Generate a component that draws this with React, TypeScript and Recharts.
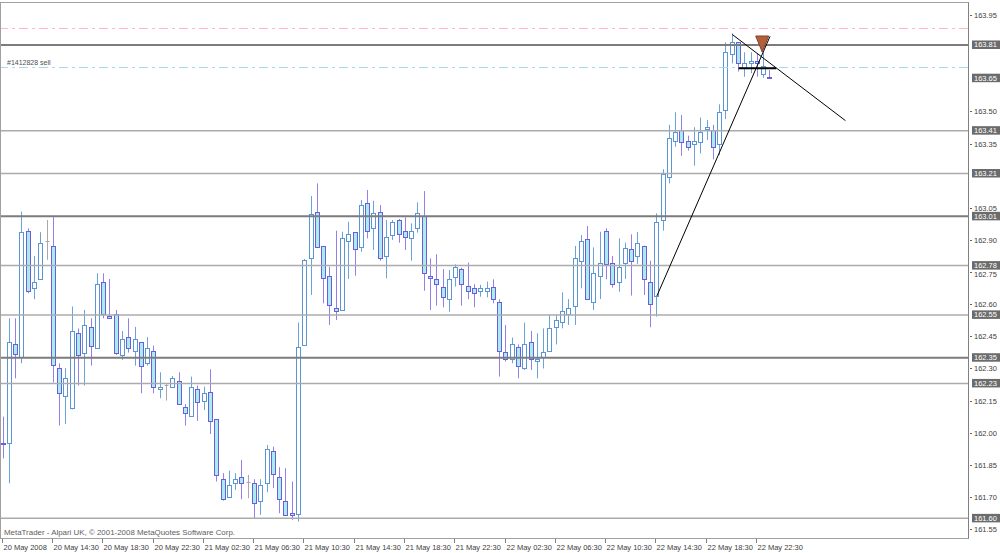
import React from 'react';
import { ComposedChart, Bar, XAxis, YAxis, ReferenceLine, ReferenceDot } from 'recharts';

const opens = [161.954,161.954,162.413,162.355,162.943,162.674,162.716,162.895,162.873,162.301,162.173,162.114,162.464,162.374,162.494,162.394,162.705,162.545,162.554,162.363,162.446,162.382,162.422,162.324,162.382,162.203,162.223,162.215,162.243,162.122,162.080,162.203,162.150,162.192,162.064,161.783,161.702,161.764,161.792,161.772,161.764,161.683,161.764,161.915,161.795,161.683,161.624,161.621,162.410,162.814,163.032,162.872,162.732,162.584,162.573,162.895,162.935,162.865,163.074,162.954,163.032,162.825,162.925,162.993,162.943,162.907,162.954,163.013,162.732,162.716,162.682,162.624,162.725,162.763,162.685,162.674,162.663,162.663,162.682,162.612,162.375,162.343,162.402,162.300,162.422,162.335,162.352,162.381,162.492,162.515,162.554,162.593,162.803,162.904,162.612,162.733,162.942,162.791,162.705,162.791,162.856,162.825,162.873,162.705,162.638,162.993,163.195,163.363,163.413,163.362,163.346,163.356,163.416,163.413,163.348,163.507,163.766,163.822,163.701,163.724,163.737,163.675,163.662];
const highs = [162.075,162.534,162.534,163.032,162.954,162.825,162.936,162.993,163.006,162.324,162.301,162.589,162.487,162.573,162.534,162.744,162.744,162.718,162.573,162.475,162.534,162.494,162.422,162.446,162.407,162.282,162.228,162.265,162.282,162.134,162.262,162.220,162.215,162.296,162.064,161.811,161.823,161.811,161.873,161.803,161.783,161.783,161.943,161.935,161.839,161.834,161.772,162.514,162.811,163.105,163.164,162.872,162.775,162.943,162.938,162.985,162.935,163.086,163.133,163.083,163.063,162.993,162.993,162.998,163.005,162.977,163.075,163.128,162.814,162.833,162.764,162.760,162.786,162.770,162.794,162.693,162.690,162.705,162.716,162.623,162.503,162.444,162.412,162.514,162.475,162.464,162.487,162.552,162.552,162.655,162.624,162.872,162.923,162.965,162.865,162.938,162.954,162.825,162.907,162.887,162.926,162.937,162.873,162.803,163.024,163.230,163.437,163.496,163.483,163.387,163.426,163.471,163.460,163.437,163.533,163.822,163.864,163.822,163.776,163.776,163.771,163.776,163.693];
const lows = [161.880,161.764,162.254,162.324,162.651,162.623,162.713,162.807,162.235,162.033,162.041,162.109,162.220,162.220,162.313,162.394,162.534,162.534,162.363,162.340,162.374,162.313,162.184,162.313,162.184,162.161,162.150,162.212,162.134,162.033,162.080,162.055,162.106,161.994,161.772,161.683,161.702,161.733,161.689,161.694,161.601,161.616,161.722,161.741,161.624,161.616,161.593,161.585,162.405,162.643,162.869,162.604,162.503,162.526,162.573,162.718,162.733,162.845,162.907,162.853,162.803,162.721,162.900,162.887,162.853,162.803,162.934,162.663,162.573,162.593,162.585,162.565,162.682,162.593,162.623,162.585,162.635,162.632,162.604,162.262,162.332,162.324,162.254,162.293,162.293,162.254,162.300,162.381,162.412,162.487,162.503,162.503,162.674,162.623,162.573,162.624,162.716,162.677,162.658,162.718,162.640,162.788,162.643,162.492,162.542,162.943,163.164,163.335,163.293,163.317,163.247,163.304,163.367,163.276,163.296,163.464,163.724,163.686,163.662,163.678,163.662,163.657,163.657];
const closes = [161.947,162.422,162.366,162.936,162.663,162.705,162.884,162.895,162.315,162.184,162.254,162.475,162.363,162.503,162.405,162.694,162.554,162.534,162.371,162.436,162.394,162.436,162.313,162.394,162.212,162.215,162.223,162.254,162.134,162.094,162.215,162.145,162.184,162.055,161.803,161.689,161.756,161.783,161.764,161.772,161.674,161.756,161.923,161.806,161.689,161.616,161.616,162.402,162.807,163.021,162.869,162.724,162.596,162.568,162.907,162.926,162.856,163.063,162.943,163.024,162.814,162.912,162.982,162.928,162.912,162.943,163.024,162.744,162.724,162.694,162.635,162.716,162.775,162.693,162.663,162.654,162.674,162.674,162.623,162.381,162.343,162.412,162.313,162.412,162.343,162.343,162.375,162.487,162.526,162.568,162.584,162.814,162.895,162.623,162.744,162.791,162.786,162.693,162.775,162.864,162.803,162.884,162.716,162.601,162.982,163.208,163.374,163.402,163.356,163.332,163.363,163.402,163.426,163.332,163.496,163.776,163.822,163.727,163.727,163.737,163.727,163.713,163.657];

const TOTAL_SLOTS = 154;
const timeTickIdx = [0, 8, 16, 24, 32, 40, 48, 56, 64, 72, 80, 88, 96, 104, 112, 120];
const timeTickLabels = ['20 May 2008', '20 May 14:30', '20 May 18:30', '20 May 22:30', '21 May 02:30', '21 May 06:30', '21 May 10:30', '21 May 14:30', '21 May 18:30', '21 May 22:30', '22 May 02:30', '22 May 06:30', '22 May 10:30', '22 May 14:30', '22 May 18:30', '22 May 22:30'];
const priceTicks = [163.95, 163.5, 163.35, 163.05, 162.9, 162.75, 162.6, 162.45, 162.3, 162.15, 162.0, 161.85, 161.7, 161.55];
const levelPrices = [163.81, 163.41, 163.21, 163.01, 162.78, 162.55, 162.35, 162.23, 161.60];
const levelLabels = ['163.81', '163.41', '163.21', '163.01', '162.78', '162.55', '162.35', '162.23', '161.60'];
const levelStrong = [true, false, false, true, false, false, true, false, false];
const bidPrice = 163.655;
const bidLabel = '163.65';
const stopPrice = 163.887;
const orderPrice = 163.705;
const orderLabel = '#1412828 sell';
const trendUp = [{ x: 104, y: 162.638 }, { x: 122, y: 163.85 }];
const trendDown = [{ x: 116, y: 163.859 }, { x: 134, y: 163.457 }];
const hSegment = [{ x: 117, y: 163.701 }, { x: 123, y: 163.701 }];
const arrowBar = 121;
const arrowPrice = 163.852;

const data = Array.from({ length: TOTAL_SLOTS }, (_, i) =>
  i < opens.length
    ? { idx: i, open: opens[i], high: highs[i], low: lows[i], close: closes[i], range: [lows[i], highs[i]] }
    : { idx: i }
);

const FONT = "'Liberation Sans', Arial, sans-serif";
const BULL_EDGE = '#5a96d4';
const BULL_WICK = '#6aa2da';
const BEAR_EDGE = '#6c5ce0';
const BEAR_WICK = '#9580ea';
const BEAR_FILL = '#a8ecec';
const DOJI = '#a8a8a8';

const Candle = (props: any) => {
  const { x, y, width, height, payload } = props;
  if (!payload || payload.open == null) return null;
  const { open, close, high, low } = payload;
  const span = high - low;
  const py = (v: number) => (span > 0 ? y + ((high - v) / span) * height : y);
  const cx = Math.floor(x + width / 2) + 0.5;
  const bull = close > open;
  const bear = close < open;
  const wick = bull ? BULL_WICK : bear ? BEAR_WICK : DOJI;
  let top = Math.round(py(Math.max(open, close))) + 0.5;
  let bot = Math.round(py(Math.min(open, close))) + 0.5;
  if (bot - top < 1) bot = top + 1;
  return (
    <g>
      <line x1={cx} x2={cx} y1={y} y2={y + height} stroke={wick} strokeWidth={1} />
      {bull || bear ? (
        <rect x={cx - 2} y={top} width={4} height={bot - top} fill={bull ? '#ffffff' : BEAR_FILL} stroke={bull ? BULL_EDGE : BEAR_EDGE} strokeWidth={1} />
      ) : (
        <line x1={cx - 2} x2={cx + 2} y1={top} y2={top} stroke={DOJI} strokeWidth={1} />
      )}
    </g>
  );
};

const TimeTick = (props: any) => {
  const { x, y, payload } = props;
  const k = timeTickIdx.indexOf(payload.value);
  const label = k >= 0 ? timeTickLabels[k] : '';
  const tx = Math.floor(x) - 0.5;
  return (
    <g>
      <line x1={tx} x2={tx} y1={y} y2={y + 4} stroke="#808080" strokeWidth={1} />
      <text x={tx + 1} y={y + 11} fontSize={7.5} fontFamily={FONT} fill="#404040">{label}</text>
    </g>
  );
};

const PriceTick = (props: any) => {
  const { x, y, payload } = props;
  const v = Number(payload.value);
  const dy = Math.abs(v - 162.75) < 0.001 ? 5 : 3;
  return (
    <g>
      <line x1={x + 2} x2={x + 4} y1={Math.round(y) + 0.5} y2={Math.round(y) + 0.5} stroke="#606060" strokeWidth={1} />
      <text x={x + 6} y={y + dy} fontSize={7.5} fontFamily={FONT} fill="#404040">{v.toFixed(2)}</text>
    </g>
  );
};

const BoxLabel = (props: any) => {
  const { viewBox, text } = props;
  if (!viewBox) return null;
  const x = viewBox.x + viewBox.width;
  const y = viewBox.y;
  return (
    <g>
      <rect x={x + 4} y={y - 4.5} width={30} height={8.5} fill="#6b6b6b" />
      <text x={x + 6} y={y + 2.4} fontSize={7.5} fontFamily={FONT} fill="#ffffff">{text}</text>
    </g>
  );
};

const OrderLabel = (props: any) => {
  const { viewBox, text } = props;
  if (!viewBox) return null;
  return (
    <text x={viewBox.x + 7} y={viewBox.y - 2} fontSize={7} fontFamily={FONT} fill="#505050">{text}</text>
  );
};

const Arrow = (props: any) => {
  const { cx, cy } = props;
  if (cx == null || cy == null) return null;
  const c = cx - 1.5;
  return (
    <polygon points={`${c - 6.5},${cy} ${c + 6.5},${cy} ${c},${cy + 16}`} fill="#b0603a" stroke="#8a4020" strokeWidth={1} />
  );
};

export default function App() {
  return (
    <div style={{ position: 'absolute', left: 0, top: 0, width: 1000, height: 553, background: '#ffffff', overflow: 'hidden' }}>
      <ComposedChart
        width={1000}
        height={553}
        data={data}
        margin={{ top: 2, right: 0, bottom: 0, left: 0 }}
        barCategoryGap={0}
        barGap={0}
      >
        <XAxis
          dataKey="idx"
          type="category"
          ticks={timeTickIdx}
          interval={0}
          height={14}
          tickLine={false}
          axisLine={false}
          tickSize={0}
          tickMargin={0}
          tick={<TimeTick />}
        />
        <YAxis
          orientation="right"
          type="number"
          domain={[161.5037, 164.0107]}
          allowDataOverflow
          ticks={priceTicks}
          width={32}
          tickLine={false}
          axisLine={false}
          tickSize={0}
          tickMargin={0}
          tick={<PriceTick />}
        />
        {levelPrices.map((p, i) => (
          <ReferenceLine
            key={'lvl' + i}
            y={p}
            stroke={levelStrong[i] ? '#7c7c7c' : '#ababab'}
            strokeWidth={levelStrong[i] ? 2 : 1.5}
            label={<BoxLabel text={levelLabels[i]} />}
          />
        ))}
        <ReferenceLine y={stopPrice} stroke="#ffb8c4" strokeWidth={1} strokeDasharray="9 4 3 4" />
        <ReferenceLine y={orderPrice} stroke="#a4dcea" strokeWidth={1} strokeDasharray="9 4 3 4" label={<OrderLabel text={orderLabel} />} />
        <ReferenceLine y={bidPrice} stroke="none" strokeOpacity={0} label={<BoxLabel text={bidLabel} />} />
        <Bar dataKey="range" isAnimationActive={false} shape={<Candle />} />
        <ReferenceLine segment={trendUp} stroke="#000000" strokeWidth={1} />
        <ReferenceLine segment={trendDown} stroke="#000000" strokeWidth={1} />
        <ReferenceLine segment={hSegment} stroke="#000000" strokeWidth={2} />
        <ReferenceDot x={arrowBar} y={arrowPrice} r={6} shape={<Arrow />} />
      </ComposedChart>
      <div style={{ position: 'absolute', left: 0, top: 2, width: 969, height: 537, boxSizing: 'border-box', borderTop: '1px solid #a0a0a0', borderLeft: '1px solid #a0a0a0', borderBottom: '1px solid #a0a0a0', borderRight: '1px solid #808080', pointerEvents: 'none' }} />
      <svg style={{ position: 'absolute', left: 0, top: 526, pointerEvents: 'none' }} width={300} height={12}>
        <text x={4} y={9} fontSize={7.5} fontFamily={FONT} fill="#606060" textLength={231} lengthAdjust="spacingAndGlyphs">MetaTrader - Alpari UK, © 2001-2008 MetaQuotes Software Corp.</text>
      </svg>
    </div>
  );
}
